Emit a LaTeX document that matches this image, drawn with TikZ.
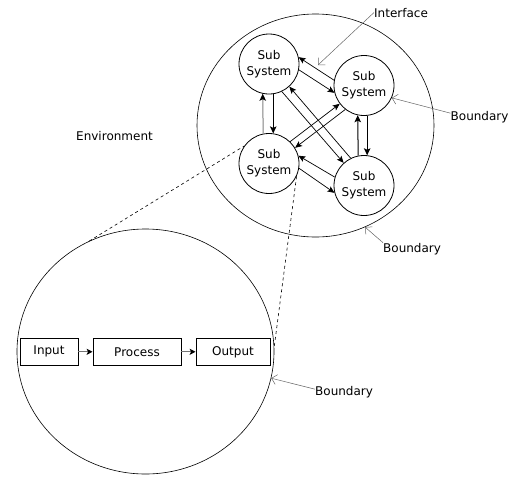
\documentclass[tikz,border=0pt]{standalone}
\usepackage{fontspec}
\setmainfont{DejaVu Sans}
\usetikzlibrary{arrows.meta,shapes.geometric}
\begin{document}
\begin{tikzpicture}[x=1pt,y=-1pt,
  font=\fontsize{12}{16}\selectfont,
  sub/.style={circle,draw,line width=0.8pt,minimum size=60pt,inner sep=0pt,align=center},
  box/.style={draw,line width=0.8pt,minimum height=27pt,inner sep=0pt},
  big/.style={ellipse,draw,line width=0.6pt,inner sep=0pt},
  lbl/.style={inner sep=0pt,anchor=base west},
  arr/.style={line width=0.7pt,-{Stealth[length=7pt,width=6pt,inset=1.5pt]}},
  varr/.style={line width=1pt,-{Stealth[length=7pt,width=6.5pt,inset=1.5pt,color=black]}},
  lead/.style={draw=black!60,line width=0.5pt,-{Straight Barb[length=5pt,width=10pt]}},
  dline/.style={line width=0.6pt,dash pattern=on 3pt off 3pt},
  flow/.style={draw=black!55,line width=1pt,-{Stealth[length=6pt,width=6pt,inset=1.5pt,color=black]}}
]
\useasboundingbox (0,0) rectangle (522,485);
% enclosing boundaries
\node[big,minimum width=237pt,minimum height=223pt] (env) at (315.5,125.5) {};
\node[big,minimum width=257pt,minimum height=245pt] (sys) at (145.5,351.5) {};
% subsystems
\node[sub] (s1) at (269,64) {Sub\\System};
\node[sub] (s2) at (364,85.5) {Sub\\System};
\node[sub] (s3) at (269,163.5) {Sub\\System};
\node[sub] (s4) at (364,185.5) {Sub\\System};
% subsystem arrows
\draw[arr] (s2.170) -- (s1.13);
\draw[arr] (s1.-11) -- (s2.194);
\draw[varr,draw=black!50] (s3.101) -- (s1.258);
\draw[varr] (s1.-82) -- (s3.82);
\draw[varr] (s4.101) -- (s2.258);
\draw[varr] (s2.276) -- (s4.84);
\draw[arr] (s3.46) -- (s2.217);
\draw[arr] (s2.232) -- (s3.31);
\draw[arr] (s4.116) -- (s1.-48);
\draw[arr] (s1.-65) -- (s4.132);
\draw[arr] (s4.164) -- (s3.15);
\draw[arr] (s3.-9) -- (s4.194);
% process boxes
\node[box,minimum width=58pt] (in) at (49,351.8) {Input};
\node[box,minimum width=88pt] (pr) at (137,351.8) {Process};
\node[box,minimum width=74pt] (out) at (233,351.8) {Output};
\draw[flow] (in.east) -- (pr.west);
\draw[flow] (pr.east) -- (out.west);
% zoom lines
\draw[dline] (sys.117) -- (s3.145);
\draw[dline] (s3.-25) -- (sys.2);
% labels
\node[lbl] (iface) at (374,17) {Interface};
\node[lbl] (envl) at (76,140.7) {Environment};
\node[lbl] (b1) at (450.5,120) {Boundary};
\node[lbl] (b2) at (383,252) {Boundary};
\node[lbl] (b3) at (315,395) {Boundary};
\coordinate (ifc) at (318,65);
\draw[lead] (iface.west) -- (ifc);
\draw[lead] ([yshift=3.5pt]b1.west) -- (s2.-24);
\draw[lead] (b2.north west) -- (env.-64);
\draw[lead] ([yshift=2.5pt]b3.west) -- (sys.-12);
\end{tikzpicture}
\end{document}
